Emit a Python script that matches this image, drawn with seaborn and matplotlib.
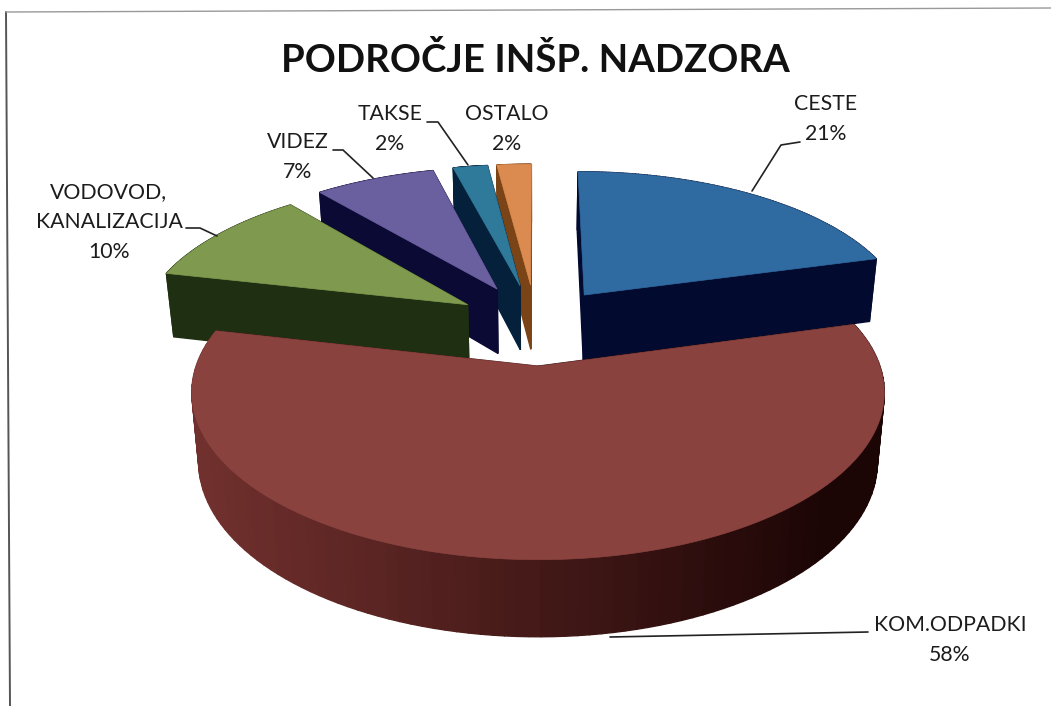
import numpy as np
import matplotlib
matplotlib.use('Agg')
import matplotlib.pyplot as plt
import seaborn as sns
from matplotlib.patches import Polygon

# Data: področje inšp. nadzora, share per category (%)
categories = ['CESTE', 'KOM.ODPADKI', 'VODOVOD,\nKANALIZACIJA', 'VIDEZ', 'TAKSE', 'OSTALO']
values = [20.7, 57.9, 10.4, 7.0, 2.0, 2.0]
percent_labels = ['21%', '58%', '10%', '7%', '2%', '2%']
explode = [0.25, 0.27, 0.25, 0.27, 0.27, 0.27]

top_colors = ['#2f6aa0', '#8a423f', '#7f9a4e', '#6a5f9f', '#2f7a9b', '#dc8b50']
side_colors = ['#030a30', '#3c1210', '#1f3012', '#0a0a35', '#05203a', '#7a4416']

# camera for the tilted pie, in image pixels
CX, CY, A, B, K, DEPTH = 536, 324, 328, 150, 0.151, 66


def project(u, v):
    w = 1 + K * v
    return CX + A * u / w, CY - B * v / w


def project_low(u, v):
    x, y = project(u, v)
    return CX + (x - CX) * 0.98, y + DEPTH / (1 + 0.75 * K * v)


sns.set_theme(style='white')
plt.rcParams['font.family'] = ['Lato', 'DejaVu Sans']

fig, ax = plt.subplots(figsize=(10.51, 7.06), dpi=100)
fig.subplots_adjust(0, 0, 1, 1)

wedges, _ = ax.pie(values, explode=explode, startangle=90, counterclock=False)
slices = [(w.center, w.theta1, w.theta2) for w in wedges]
for w in wedges:
    w.remove()

ax.set_aspect('auto')
ax.set_xlim(0, 1051)
ax.set_ylim(706, 0)
ax.axis('off')

rim_fade = sns.blend_palette(['#70302d', '#1c0505'], 61)

# back to front, the big slice goes last
for order, i in enumerate([5, 4, 3, 2, 0, 1]):
    (c_x, c_y), t1, t2 = slices[i]
    t = np.radians(np.linspace(t1, t2, 120))
    u = np.r_[c_x, c_x + np.cos(t) * (0.995 if i == 0 else 1)]
    v = np.r_[c_y, c_y + np.sin(t)]
    x, y = project(u, v)
    xb, yb = project_low(u, v)
    n = len(u)
    for j in range(n):
        k = (j + 1) % n
        col = side_colors[i]
        if i == 1:
            # rim of the big slice fades out to the right
            col = rim_fade[int(np.clip((x[j] - 200) / 620, 0, 1) * 60)]
        ax.add_patch(Polygon([(x[j], y[j]), (x[k], y[k]), (xb[k], yb[k]), (xb[j], yb[j])],
                             fc=col, ec=col, lw=1.0, zorder=2 + order * 2))
    ax.add_patch(Polygon(np.c_[x, y], fc=top_colors[i], ec=top_colors[i], lw=0.5, zorder=3 + order * 2))

# frame of the scan
ax.plot([6, 10], [12, 706], color='#555555', lw=1.4, zorder=1)
ax.plot([6, 1051], [12, 8], color='#999999', lw=1.0, zorder=1)

ax.text(535, 60, 'PODROČJE INŠP. NADZORA', ha='center', va='center',
        fontsize=27.6, fontweight='bold', color='#111111')

label_pos = [(826, 119), (950, 640), (109, 222), (298, 157), (390, 129), (507, 129)]
leaders = [[(800, 142), (781, 145), (752, 191)],
           [(868, 632), (610, 637)],
           [(186, 228), (200, 228), (217, 236)],
           [(333, 150), (343, 150), (373, 178)],
           [(427, 122), (438, 122), (468, 165)],
           []]
for i, name in enumerate(categories):
    ax.text(label_pos[i][0], label_pos[i][1], name + '\n' + percent_labels[i], ha='center', va='center',
            fontsize=15.3, color='#1c1c1c', linespacing=1.65, zorder=20)
    if leaders[i]:
        lx, ly = zip(*leaders[i])
        ax.plot(lx, ly, color='#222222', lw=1.2, zorder=20)

fig.savefig('out.png', dpi=100, facecolor='white')
